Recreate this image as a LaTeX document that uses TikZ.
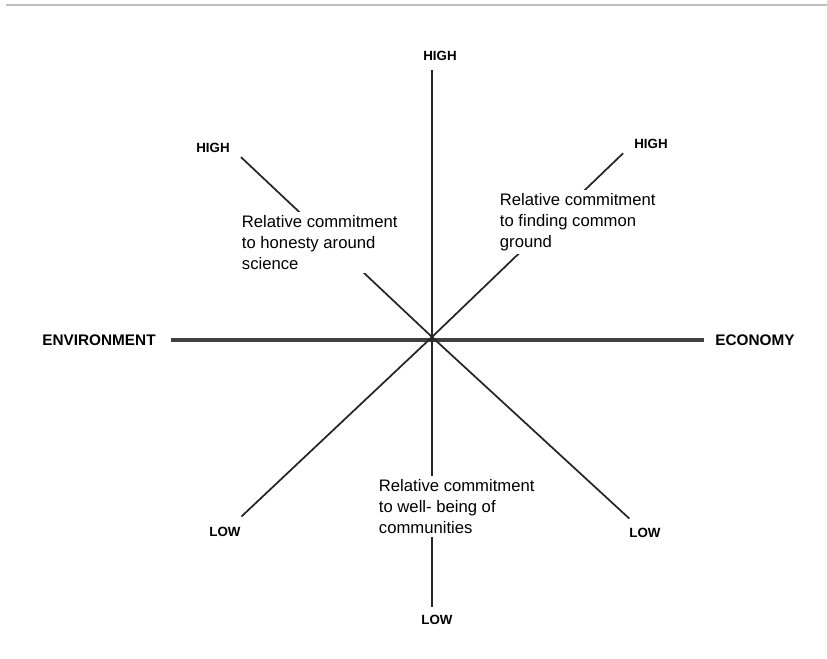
\documentclass[tikz,border=0pt]{standalone}
\usepackage{fontspec}
\setmainfont{Liberation Sans}

\begin{document}
\begin{tikzpicture}[x=0.75pt, y=-0.75pt,
    axis/.style={line width=1.3pt, black!85},
    mainaxis/.style={line width=3.2pt, black!75},
    pole/.style={font=\fontsize{10}{12}\selectfont\bfseries, inner sep=1pt},
    side/.style={font=\fontsize{11.5}{13}\selectfont\bfseries, inner sep=1pt},
    note/.style={font=\fontsize{12.5}{16}\selectfont, align=left, anchor=north west, fill=white, inner sep=2pt}]
  \useasboundingbox (0,0) rectangle (827,658);
  \draw[black!25, line width=1pt] (6,5) -- (827,5);

  % centre and pole labels
  \coordinate (o) at (432,337);
  \node[pole] (hiN) at (440,56) {HIGH};
  \node[pole] (loS) at (437,620) {LOW};
  \node[pole] (hiNW) at (213,148) {HIGH};
  \node[pole] (loSE) at (645,533) {LOW};
  \node[pole] (hiNE) at (651,144) {HIGH};
  \node[pole] (loSW) at (225,532) {LOW};
  \node[side] (env) at (99,340) {ENVIRONMENT};
  \node[side] (eco) at (755,340) {ECONOMY};

  % axes
  \draw[mainaxis, shorten <=10pt, shorten >=7pt] (env.east) -- (eco.west);
  \draw[axis, shorten >=6pt] (o) -- (o |- hiN.south);
  \draw[axis, shorten >=5pt] (o) -- (o |- loS.north);
  \draw[axis, shorten >=10pt] (o) -- (hiNW.east);
  \draw[axis, shorten >=9pt] (o) -- (loSE);
  \draw[axis, shorten >=10pt] (o) -- (hiNE.west);
  \draw[axis, shorten >=10pt] (o) -- (loSW);

  % axis names
  \node[note] (txtNW) at (239,212) {Relative commitment\\to honesty around\\science};
  \node[note] (txtNE) at (497,190) {Relative commitment\\to finding common\\ground};
  \node[note] (txtS) at (376,476) {Relative commitment\\to well- being of\\communities};
\end{tikzpicture}
\end{document}
